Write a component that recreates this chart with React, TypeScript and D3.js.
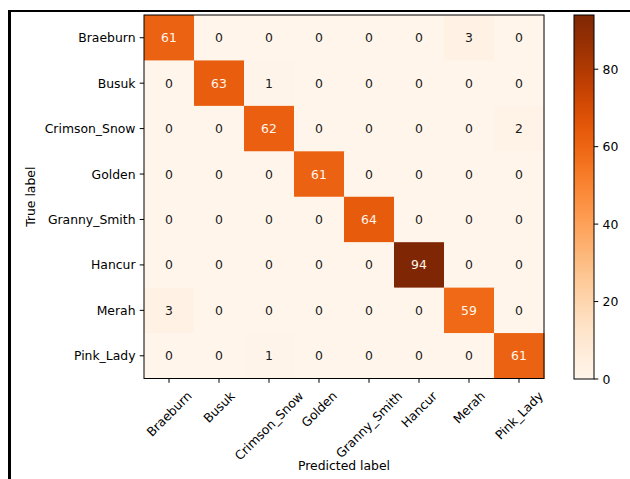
import React, { useEffect, useRef } from "react";
import * as d3 from "d3";

const labels = ["Braeburn", "Busuk", "Crimson_Snow", "Golden", "Granny_Smith", "Hancur", "Merah", "Pink_Lady"];
const rowBraeburn = [61, 0, 0, 0, 0, 0, 3, 0];
const rowBusuk = [0, 63, 1, 0, 0, 0, 0, 0];
const rowCrimson = [0, 0, 62, 0, 0, 0, 0, 2];
const rowGolden = [0, 0, 0, 61, 0, 0, 0, 0];
const rowGranny = [0, 0, 0, 0, 64, 0, 0, 0];
const rowHancur = [0, 0, 0, 0, 0, 94, 0, 0];
const rowMerah = [3, 0, 0, 0, 0, 0, 59, 0];
const rowPink = [0, 0, 1, 0, 0, 0, 0, 61];
const matrix = [rowBraeburn, rowBusuk, rowCrimson, rowGolden, rowGranny, rowHancur, rowMerah, rowPink];
const cbTicks = [0, 20, 40, 60, 80];

const W = 630, H = 479;
const FONT = "DejaVu Sans";
const FS = 12.4;

export default function App() {
  const ref = useRef<SVGSVGElement>(null);
  useEffect(() => {
    const svg = d3.select(ref.current);
    svg.selectAll("*").remove();
    const left = 144, right = 544, top = 15, bottom = 378.5;
    const vmax = d3.max(matrix.flat()) as number;
    const x = d3.scaleBand().domain(labels).range([left, right]);
    const y = d3.scaleBand().domain(labels).range([top, bottom]);
    const color = d3.scaleSequential(d3.interpolateOranges).domain([0, vmax]);
    const cMin = d3.interpolateOranges(0);

    svg.append("rect").attr("width", W).attr("height", H).attr("fill", "#fff");
    // frame
    svg.append("line").attr("x1", 9.5).attr("x2", W).attr("y1", 11).attr("y2", 11).attr("stroke", "#000").attr("stroke-width", 2);
    svg.append("line").attr("x1", 9.5).attr("x2", 9.5).attr("y1", 10).attr("y2", H).attr("stroke", "#000").attr("stroke-width", 3);

    const g = svg.append("g");
    matrix.forEach((row, i) => {
      row.forEach((v, j) => {
        g.append("rect")
          .attr("x", x(labels[j])!).attr("y", y(labels[i])!)
          .attr("width", x.bandwidth() + 0.5).attr("height", y.bandwidth() + 0.5)
          .attr("fill", color(v));
      });
    });
    matrix.forEach((row, i) => {
      row.forEach((v, j) => {
        g.append("text")
          .attr("x", x(labels[j])! + x.bandwidth() / 2)
          .attr("y", y(labels[i])! + y.bandwidth() / 2)
          .attr("text-anchor", "middle").attr("dominant-baseline", "central")
          .attr("font-family", FONT).attr("font-size", FS)
          .attr("fill", v < vmax / 2 ? "#1a1a1a" : cMin)
          .text(v);
      });
    });
    svg.append("rect").attr("x", left).attr("y", top).attr("width", right - left).attr("height", bottom - top)
      .attr("fill", "none").attr("stroke", "#000").attr("stroke-width", 1);

    // y ticks
    labels.forEach((l) => {
      const cy = y(l)! + y.bandwidth() / 2;
      svg.append("line").attr("x1", left - 4.3).attr("x2", left).attr("y1", cy).attr("y2", cy).attr("stroke", "#000");
      svg.append("text").attr("x", left - 8.5).attr("y", cy).attr("text-anchor", "end").attr("dominant-baseline", "central")
        .attr("font-family", FONT).attr("font-size", FS).attr("fill", "#000").text(l);
    });
    // x ticks
    labels.forEach((l) => {
      const cx = x(l)! + x.bandwidth() / 2;
      svg.append("line").attr("x1", cx).attr("x2", cx).attr("y1", bottom).attr("y2", bottom + 4.3).attr("stroke", "#000");
      const t = svg.append("text").attr("text-anchor", "middle").attr("dominant-baseline", "central")
        .attr("font-family", FONT).attr("font-size", FS).attr("fill", "#000").text(l);
      const w = (t.node() as SVGTextElement).getComputedTextLength();
      const h = FS * 1.17;
      const half = (w + h) * Math.SQRT1_2 / 2;
      t.attr("transform", `translate(${cx},${bottom + 10 + half}) rotate(-45)`);
    });
    svg.append("text").attr("x", (left + right) / 2).attr("y", 465).attr("text-anchor", "middle").attr("dominant-baseline", "central")
      .attr("font-family", FONT).attr("font-size", FS).attr("fill", "#000").text("Predicted label");
    svg.append("text").attr("transform", `translate(30,${(top + bottom) / 2}) rotate(-90)`).attr("text-anchor", "middle")
      .attr("dominant-baseline", "central").attr("font-family", FONT).attr("font-size", FS).attr("fill", "#000").text("True label");

    // colorbar
    const cbL = 574, cbR = 594, cbT = 15, cbB = 379;
    const cy = d3.scaleLinear().domain([0, vmax]).range([cbB, cbT]);
    const defs = svg.append("defs");
    const grad = defs.append("linearGradient").attr("id", "cbgrad").attr("x1", 0).attr("x2", 0).attr("y1", 1).attr("y2", 0);
    d3.range(0, 1.0001, 0.02).forEach((t) => {
      grad.append("stop").attr("offset", t).attr("stop-color", d3.interpolateOranges(t));
    });
    svg.append("rect").attr("x", cbL).attr("y", cbT).attr("width", cbR - cbL).attr("height", cbB - cbT)
      .attr("fill", "url(#cbgrad)").attr("stroke", "#000").attr("stroke-width", 1);
    cbTicks.forEach((v) => {
      const ty = cy(v);
      svg.append("line").attr("x1", cbR).attr("x2", cbR + 4.3).attr("y1", ty).attr("y2", ty).attr("stroke", "#000");
      svg.append("text").attr("x", cbR + 8.5).attr("y", ty).attr("dominant-baseline", "central")
        .attr("font-family", FONT).attr("font-size", FS).attr("fill", "#000").text(v);
    });
  }, []);
  return (
    <svg ref={ref} width={W} height={H} style={{ position: "absolute", left: 0, top: 0 }} />
  );
}
